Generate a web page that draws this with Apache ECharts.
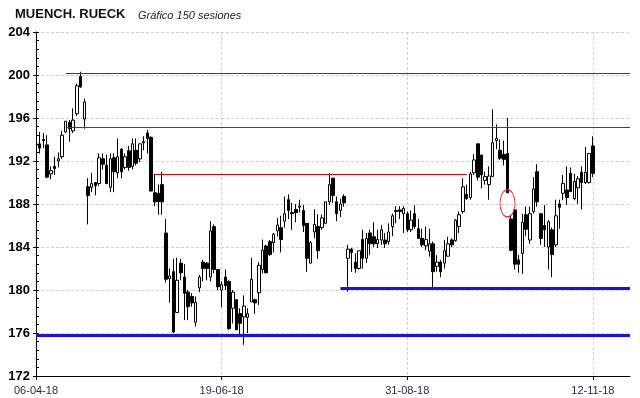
<!DOCTYPE html>
<html>
<head>
<meta charset="utf-8">
<script src="https://cdn.jsdelivr.net/npm/echarts@6/dist/echarts.min.js"></script>
<style>html,body{margin:0;padding:0;background:#fff}#chart{width:640px;height:398px}</style>
</head>
<body>
<div id="chart"></div>
<script>
// 150 sesiones: apertura, cierre, minimo, maximo
const opens = [
  193.6,194.0,193.5,190.8,191.5,192.0,192.4,194.7,195.6,194.8,
  196.4,199.85,195.9,189.6,189.55,190.0,189.9,192.2,191.6,189.55,
  192.3,190.9,193.1,191.4,192.95,191.5,193.0,192.2,193.7,194.6,
  194.2,189.05,189.0,189.8,185.3,181.05,181.7,177.9,182.5,181.2,
  179.8,179.4,177.0,180.2,182.6,182.5,181.2,185.9,181.9,180.0,
  181.2,180.8,178.3,179.1,177.8,177.5,177.45,178.9,179.1,179.75,
  181.9,184.1,184.5,184.4,185.5,185.8,186.4,188.4,187.2,187.5,
  187.7,187.4,186.2,182.5,185.4,185.9,185.8,186.2,188.2,190.4,
  188.2,187.4,188.7,182.95,183.8,182.6,182.0,184.7,182.95,185.3,
  184.95,184.3,184.65,184.65,184.5,185.9,187.4,187.45,187.1,187.1,
  185.6,187.1,185.7,184.8,184.1,183.6,184.3,182.2,182.6,182.5,
  183.15,184.65,184.6,185.9,187.3,188.9,188.6,190.9,193.6,192.55,
  190.2,189.8,190.55,193.9,193.0,192.6,192.7,186.6,187.45,182.8,
  183.4,187.0,184.65,187.3,191.0,187.1,186.0,184.0,185.6,184.2,
  188.0,189.0,189.3,190.85,188.5,189.5,190.95,190.0,190.0,193.4
];
const closes = [
  193.2,193.9,190.5,191.1,191.3,192.2,194.4,195.7,195.0,195.8,
  199.0,198.9,197.5,188.8,189.9,189.7,192.3,191.7,189.9,192.2,
  191.0,192.4,191.0,192.4,191.4,193.6,191.8,193.6,193.8,194.1,
  189.2,188.2,188.2,188.2,181.0,181.3,176.1,180.9,181.6,179.7,
  178.45,178.8,178.85,181.2,182.0,182.0,185.5,181.9,180.3,180.5,
  180.4,176.4,179.8,176.3,176.9,178.5,177.8,181.0,178.8,182.3,
  183.7,181.6,183.3,185.2,186.05,184.7,187.1,187.4,187.1,187.2,
  187.8,186.0,182.95,184.4,186.1,183.65,186.7,188.2,189.8,188.8,
  187.1,188.0,188.1,183.8,183.5,182.0,183.65,182.95,184.8,184.3,
  184.3,184.7,185.6,184.3,185.4,186.9,187.3,187.3,187.6,185.6,
  186.5,185.9,184.8,184.2,184.7,184.3,181.7,182.6,181.7,183.65,
  184.3,184.2,186.5,187.0,189.6,188.5,190.8,192.1,190.5,190.7,
  190.55,190.6,193.7,194.1,192.25,192.15,189.05,183.7,182.4,182.4,
  186.3,185.65,187.1,189.4,188.2,184.8,185.6,186.35,183.3,186.9,
  187.7,189.9,188.6,189.15,190.1,190.35,190.0,190.95,192.7,190.85
];
const lows = [
  192.7,193.2,190.4,190.3,190.7,191.4,192.2,194.6,193.8,194.6,
  196.2,198.8,195.0,186.1,189.1,188.8,189.7,191.2,189.85,189.1,
  189.1,190.4,190.4,191.2,191.1,191.2,191.6,191.9,193.0,192.7,
  189.2,187.8,187.0,187.0,180.7,178.8,176.0,177.9,180.9,177.2,
  177.2,178.45,176.6,179.8,180.8,180.9,180.8,181.55,180.0,178.4,
  180.0,176.3,176.9,176.3,175.7,174.9,176.0,178.9,177.8,178.6,
  181.55,181.55,183.15,183.5,185.0,183.5,185.8,186.6,185.6,186.3,
  187.2,185.4,181.7,182.5,184.8,182.9,185.6,186.2,187.9,188.1,
  186.4,186.8,187.75,179.85,181.7,181.6,181.9,182.0,182.5,183.25,
  184.0,183.9,184.2,183.9,184.2,185.0,186.2,186.6,185.3,185.4,
  185.4,185.7,184.8,184.0,183.7,183.1,180.15,181.7,181.2,182.0,
  183.1,184.0,184.5,185.3,187.1,188.4,188.4,190.7,190.2,189.45,
  189.8,188.4,190.55,193.1,192.1,191.6,189.05,183.6,181.9,181.6,
  181.5,185.0,184.3,187.1,187.75,184.2,184.0,181.9,181.2,184.0,
  185.7,188.35,187.9,189.15,188.35,188.0,187.5,189.85,189.9,190.5
];
const highs = [
  194.7,194.6,194.4,191.5,192.4,192.8,194.8,195.7,195.8,196.9,
  199.2,200.3,197.8,190.4,190.9,190.0,192.7,192.7,192.6,192.7,
  192.7,194.1,193.2,192.7,193.4,194.1,194.1,193.6,194.3,194.9,
  194.3,190.8,189.8,191.0,186.6,182.0,182.9,183.0,182.9,182.4,
  180.0,179.7,179.4,181.4,182.8,182.6,186.4,186.1,181.9,180.8,
  181.9,180.9,180.0,179.1,178.3,179.5,178.3,183.0,179.2,182.6,
  184.7,184.2,184.65,185.3,186.7,186.9,188.7,188.9,188.1,188.0,
  188.4,187.9,186.2,184.55,187.5,187.05,187.0,188.2,190.85,190.4,
  188.7,188.5,188.9,184.2,183.9,183.4,183.65,185.6,185.3,185.6,
  186.3,185.6,186.05,185.3,186.2,187.1,187.8,187.8,187.8,187.3,
  187.4,187.9,186.6,185.7,185.9,185.7,184.5,183.25,182.8,184.65,
  184.95,184.8,186.6,187.3,190.4,189.8,191.0,192.65,193.6,192.55,
  191.0,191.5,196.8,195.4,194.0,193.9,196.0,187.0,187.45,183.25,
  187.1,187.75,187.75,190.5,191.7,187.1,187.9,186.5,185.8,188.4,
  188.4,190.7,191.5,191.4,190.8,190.6,191.5,193.3,192.7,194.3
];

// eje X: huecos de sesion (1 libre delante, 10 detras)
const slots = 161;
const tickIndex = [0, 50, 100, 150];
const tickLabels = ['06-04-18', '19-06-18', '31-08-18', '12-11-18'];

// lineas trazadas: [desde, hasta, valor]
const redLines = [[8, 160, 200.2], [8, 160, 195.15], [32, 116, 190.8]];
const blueLines = [[82, 160, 180.15], [0, 160, 175.8]];
// elipse roja: [sesion, valor]
const circleMark = [127, 188.06];

const categories = [];
for (let i = 0; i < slots; i++) categories.push(String(i));

const candles = [['-', '-', '-', '-']];
for (let k = 0; k < opens.length; k++) {
  candles.push([opens[k], closes[k], lows[k], highs[k]]);
}

function isTick(index) {
  return tickIndex.indexOf(index) >= 0;
}

function segment(def, color, width) {
  return [
    {coord: [String(def[0]), def[2]], lineStyle: {color: color, width: width, type: 'solid'}},
    {coord: [String(def[1]), def[2]]}
  ];
}

const lineData = [];
redLines.forEach(d => lineData.push(segment(d, '#e00000', 1)));
blueLines.forEach(d => lineData.push(segment(d, '#1414e6', 3)));

const gridLine = {show: true, lineStyle: {color: '#cfcfd4', type: [3, 2], width: 1}};

const option = {
  animation: false,
  backgroundColor: '#ffffff',
  title: [
    {text: 'MUENCH. RUECK', left: 10, top: 3,
      textStyle: {fontFamily: 'Liberation Sans, Arial', fontSize: 13, fontWeight: 'bold', color: '#111'}},
    {text: 'Gráfico 150 sesiones', left: 133, top: 5,
      textStyle: {fontFamily: 'Liberation Sans, Arial', fontSize: 11, fontWeight: 'normal', fontStyle: 'italic', color: '#222'}}
  ],
  grid: {left: 36, right: 10, top: 32, bottom: 22},
  xAxis: {
    type: 'category',
    data: categories,
    boundaryGap: false,
    axisLine: {lineStyle: {color: '#000', width: 1}},
    axisTick: {show: true, length: 4, interval: i => isTick(i), lineStyle: {color: '#000'}},
    axisLabel: {
      interval: i => isTick(i),
      formatter: (v, i) => tickLabels[tickIndex.indexOf(i)] || '',
      fontFamily: 'Liberation Sans, Arial', fontSize: 11, color: '#1e2846', margin: 9
    },
    splitLine: Object.assign({interval: i => isTick(i) && i > 0}, gridLine)
  },
  yAxis: [
    {
      type: 'value', min: 172, max: 204, interval: 4, position: 'left',
      axisLine: {show: true, lineStyle: {color: '#000'}},
      axisTick: {show: true, inside: true, length: 3, lineStyle: {color: '#000'}},
      minorTick: {show: true, splitNumber: 5, length: 3, lineStyle: {color: '#000'}},
      axisLabel: {fontFamily: 'Liberation Sans, Arial', fontSize: 13, fontWeight: 'bold', color: '#000', margin: 6},
      splitLine: gridLine
    },
    {
      type: 'value', min: 172, max: 204, interval: 4, position: 'left',
      axisLine: {show: false},
      axisTick: {show: true, inside: false, length: 3, lineStyle: {color: '#000'}},
      axisLabel: {show: false},
      splitLine: {show: false}
    }
  ],
  series: [{
    type: 'candlestick',
    data: candles,
    barWidth: 3,
    itemStyle: {color: '#ffffff', color0: '#000000', borderColor: '#000000', borderColor0: '#000000', borderWidth: 1},
    markLine: {silent: true, symbol: ['none', 'none'], label: {show: false}, data: lineData},
    markPoint: {
      silent: true,
      symbol: 'circle',
      symbolSize: [15, 27],
      label: {show: false},
      itemStyle: {color: 'rgba(0,0,0,0)', borderColor: '#ee2020', borderWidth: 1},
      data: [{coord: [String(circleMark[0]), circleMark[1]]}]
    }
  }]
};

const myChart = echarts.init(document.getElementById('chart'));
myChart.setOption(option);
</script>
</body>
</html>
